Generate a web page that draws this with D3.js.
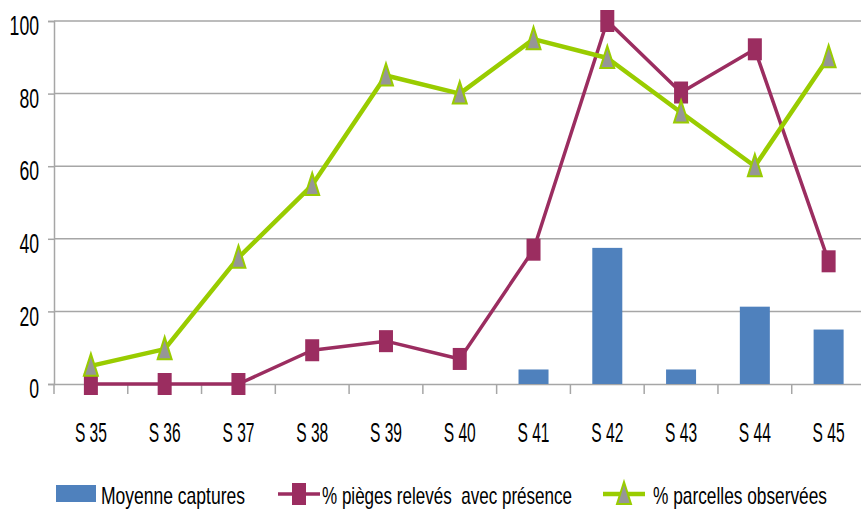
<!DOCTYPE html>
<html><head><meta charset="utf-8">
<script src="https://cdn.jsdelivr.net/npm/d3@7"></script>
<style>
body{margin:0;background:#fff;}
text{font-family:"Liberation Sans",Arial,sans-serif;fill:#000;white-space:pre;}
</style></head>
<body><svg id="c" width="861" height="509"></svg>
<script>
const categories=["S 35","S 36","S 37","S 38","S 39","S 40","S 41","S 42","S 43","S 44","S 45"];
const captures=[null,null,null,null,null,null,4,37.5,4,21.3,15];
const pieges=[0,0,0,9.3,11.8,6.9,37,100,80.3,92.2,33.8];
const parcelles=[5,9.6,34.8,54.8,85,80,95,89.8,74.8,60,90];
const yTicks=[0,20,40,60,80,100];
const legendLabels=["Moyenne captures","% pièges relevés  avec présence","% parcelles observées"];

const svg=d3.select("#c");
const x=d3.scaleBand().domain(categories).range([54,865.5]);
const y=d3.scaleLinear().domain([0,100]).range([384,21]);
const cBar="#4F81BD", cMag="#9B2D60", cGreen="#99CC00", cTri="#969696", cGrid="#A6A6A6";

// gridlines
svg.append("g").selectAll("line").data(yTicks.filter(d=>d>0)).join("line")
 .attr("x1",54).attr("x2",861).attr("y1",d=>y(d)).attr("y2",d=>y(d))
 .attr("stroke",cGrid).attr("stroke-width",1.5);

// y axis
const ya=svg.append("g").attr("transform","translate(54,0)")
 .call(d3.axisLeft(y).tickValues(yTicks).tickSize(6).tickPadding(9));
ya.select(".domain").attr("stroke",cGrid).attr("stroke-width",1.5);
ya.selectAll(".tick line").attr("stroke",cGrid).attr("stroke-width",1.5);
ya.selectAll(".tick text").attr("font-size",27).attr("dy","0.51em")
 .attr("textLength",d=>String(d).length*9.8).attr("lengthAdjust","spacingAndGlyphs");

// x axis
const xa=svg.append("g").attr("transform",`translate(0,${y(0)})`)
 .call(d3.axisBottom(x).tickSize(0));
xa.select(".domain").attr("stroke",cGrid).attr("stroke-width",1.5);
xa.selectAll(".tick text").attr("font-size",28).attr("y",58).attr("dy",0)
 .attr("textLength",32).attr("lengthAdjust","spacingAndGlyphs");
// category boundary ticks
svg.append("g").selectAll("line").data(d3.range(categories.length+1)).join("line")
 .attr("x1",i=>54+i*x.step()).attr("x2",i=>54+i*x.step())
 .attr("y1",y(0)).attr("y2",y(0)+10).attr("stroke",cGrid).attr("stroke-width",1.5);

// bars
const bw=30;
svg.append("g").selectAll("rect").data(categories.map((c,i)=>({c,v:captures[i]})).filter(d=>d.v!=null)).join("rect")
 .attr("x",d=>x(d.c)+x.bandwidth()/2-bw/2).attr("width",bw)
 .attr("y",d=>y(d.v)).attr("height",d=>y(0)-y(d.v)).attr("fill",cBar);

const cx=c=>x(c)+x.bandwidth()/2;
// magenta line
const magData=categories.map((c,i)=>({c,v:pieges[i]}));
svg.append("path").datum(magData).attr("fill","none").attr("stroke",cMag).attr("stroke-width",3.5)
 .attr("stroke-linejoin","round")
 .attr("d",d3.line().x(d=>cx(d.c)).y(d=>y(d.v)));
svg.append("g").selectAll("rect").data(magData).join("rect")
 .attr("x",d=>cx(d.c)-7).attr("y",d=>y(d.v)-11).attr("width",14).attr("height",22).attr("fill",cMag);

// green line
const grData=categories.map((c,i)=>({c,v:parcelles[i]}));
svg.append("path").datum(grData).attr("fill","none").attr("stroke",cGreen).attr("stroke-width",4.5)
 .attr("stroke-linejoin","round")
 .attr("d",d3.line().x(d=>cx(d.c)).y(d=>y(d.v)));
const tri=(px,py)=>`M${px},${py-12}L${px+7},${py+10}L${px-7},${py+10}Z`;
svg.append("g").selectAll("path").data(grData).join("path")
 .attr("d",d=>tri(cx(d.c),y(d.v))).attr("fill",cTri).attr("stroke",cGreen).attr("stroke-width",2);

// legend
const lg=svg.append("g");
const ly=494;
const lw=[144,250,174];
lg.append("rect").attr("x",56).attr("y",485).attr("width",40).attr("height",17).attr("fill",cBar);
lg.append("text").attr("x",101).attr("y",504).attr("font-size",24).attr("textLength",lw[0]).attr("lengthAdjust","spacingAndGlyphs").text(legendLabels[0]);
lg.append("line").attr("x1",278).attr("x2",320).attr("y1",ly).attr("y2",ly).attr("stroke",cMag).attr("stroke-width",3.5);
lg.append("rect").attr("x",292).attr("y",ly-11).attr("width",14).attr("height",22).attr("fill",cMag);
lg.append("text").attr("x",322).attr("y",504).attr("font-size",24).attr("textLength",lw[1]).attr("lengthAdjust","spacingAndGlyphs").text(legendLabels[1]);
lg.append("line").attr("x1",603).attr("x2",645).attr("y1",ly).attr("y2",ly).attr("stroke",cGreen).attr("stroke-width",4.5);
lg.append("path").attr("d",tri(624,ly)).attr("fill",cTri).attr("stroke",cGreen).attr("stroke-width",2);
lg.append("text").attr("x",653).attr("y",504).attr("font-size",24).attr("textLength",lw[2]).attr("lengthAdjust","spacingAndGlyphs").text(legendLabels[2]);
</script></body></html>
